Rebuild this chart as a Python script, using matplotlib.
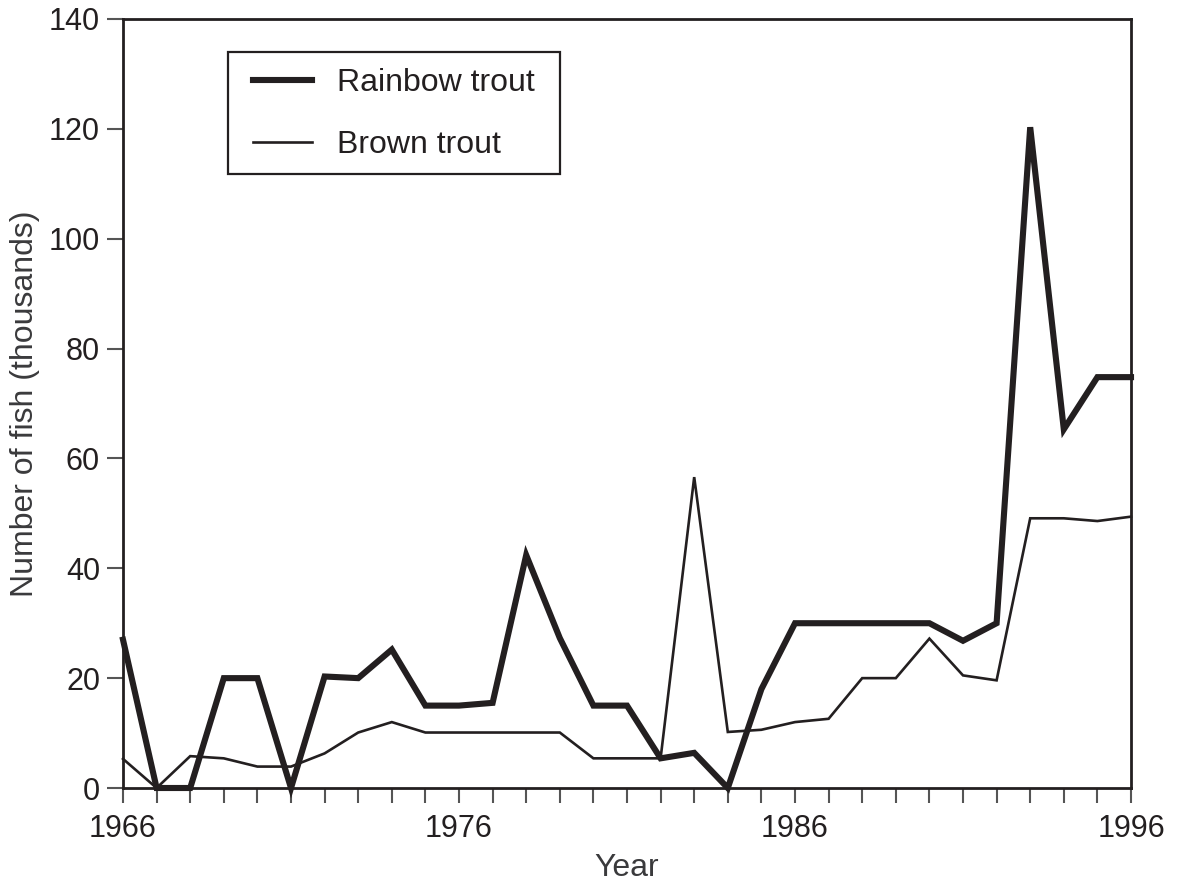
import matplotlib
matplotlib.use("Agg")
import matplotlib.pyplot as plt
from matplotlib.patches import Rectangle

years = list(range(1966, 1997))
rainbow_trout = [27, 0, 0, 20, 20, 0, 20.3, 20, 25.2, 15, 15, 15.5, 42.4, 27.3, 15, 15,
                 5.4, 6.4, 0, 18, 30, 30, 30, 30, 30, 26.8, 30, 120.3, 65.3, 74.8, 74.8]
brown_trout = [5.3, 0, 5.8, 5.4, 3.9, 3.9, 6.3, 10.1, 12, 10.1, 10.1, 10.1, 10.1, 10.1, 5.4, 5.4,
               5.4, 56.6, 10.2, 10.6, 12, 12.6, 20, 20, 27.2, 20.5, 19.6, 49.1, 49.1, 48.6, 49.4]
x_ticklabels = {1966: "1966", 1976: "1976", 1986: "1986", 1996: "1996"}
y_ticks = [0, 20, 40, 60, 80, 100, 120, 140]

plt.rcParams['font.family'] = ['Liberation Sans', 'DejaVu Sans']
ink = '#231f20'
W, H = 1178, 884

fig = plt.figure(figsize=(W/100, H/100), dpi=100)
ax = fig.add_axes([123/W, 1-788/H, 1008/W, 769/H])

ax.plot(years, rainbow_trout, color=ink, lw=4.4, solid_joinstyle='miter', label='Rainbow trout', clip_on=False, zorder=3)
ax.plot(years, brown_trout, color=ink, lw=1.9, solid_joinstyle='miter', label='Brown trout', clip_on=False, zorder=3)

ax.set_xlim(1966, 1996)
ax.set_ylim(0, 140)
ax.set_xticks(years)
ax.set_xticklabels([x_ticklabels.get(y, "") for y in years])
ax.set_yticks(y_ticks)
ax.tick_params(axis='x', direction='out', length=11, width=1.5, color='#555555', pad=8,
               labelsize=22, labelcolor=ink, top=False)
ax.tick_params(axis='y', direction='out', length=11.5, width=1.5, color='#555555', pad=5,
               labelsize=22, labelcolor=ink, right=False)
for s in ax.spines.values():
    s.set_color(ink)
    s.set_linewidth(2.0)

ax.set_xlabel('Year', fontsize=23, color='#3a3a3c', labelpad=6)
ax.set_ylabel('Number of fish (thousands)', fontsize=23, color='#3a3a3c', labelpad=6)

leg = ax.legend(loc='upper left', bbox_to_anchor=(253/W, 1-68/H), bbox_transform=fig.transFigure,
                borderaxespad=0, borderpad=0, fontsize=23, handlelength=1.85, handletextpad=0.78,
                labelspacing=1.0, frameon=False)
for t in leg.get_texts():
    t.set_color(ink)

fig.add_artist(Rectangle((228/W, 1-174/H), 332/W, 122/H, transform=fig.transFigure,
                         fill=False, ec=ink, lw=1.6))

fig.savefig('out.png', dpi=100)
